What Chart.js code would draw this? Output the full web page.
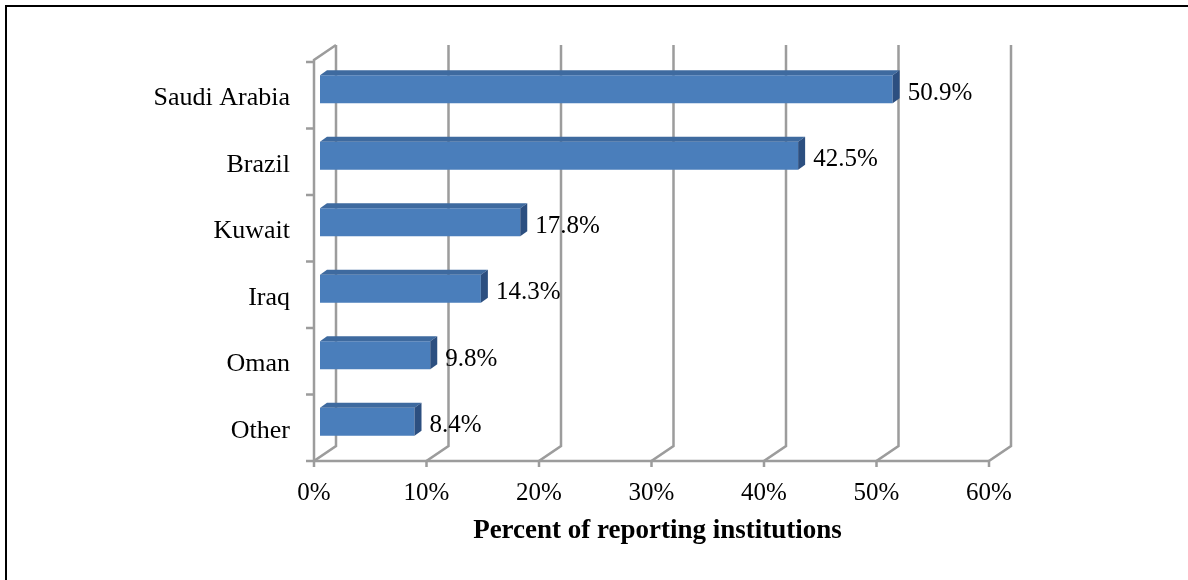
<!DOCTYPE html>
<html>
<head>
<meta charset="utf-8">
<script src="https://cdn.jsdelivr.net/npm/chart.js@4.4.1/dist/chart.umd.min.js"></script>
<style>
  html, body { margin: 0; padding: 0; background: #fff; }
  #wrap { position: relative; width: 1188px; height: 580px; overflow: hidden; }
  #frame { position: absolute; left: 5px; top: 5px; width: 1200px; height: 600px;
           border-top: 2px solid #000; border-left: 2px solid #000; pointer-events: none; }
  canvas { position: absolute; left: 0; top: 0; }
</style>
</head>
<body>
<div id="wrap">
  <canvas id="c" width="1188" height="580"></canvas>
  <div id="frame"></div>
</div>
<script>
const categories = ['Saudi Arabia', 'Brazil', 'Kuwait', 'Iraq', 'Oman', 'Other'];
const percentValues = [50.9, 42.5, 17.8, 14.3, 9.8, 8.4];
const xTickValues = [0, 10, 20, 30, 40, 50, 60];
const axisTitle = 'Percent of reporting institutions';

const FONT = '"Liberation Serif", "Times New Roman", serif';
const GRID = '#9c9c9c';
const FRONT = { dx: -6, dy: 6 };     // front plane relative to bar plane
const DEPTH = { dx: 22, dy: -15 };   // back plane relative to front plane
const BAR_D = { dx: 7, dy: -5 };     // bar depth

const wallsPlugin = {
  id: 'walls',
  beforeDatasetsDraw(chart) {
    const ctx = chart.ctx;
    const xs = chart.scales.x, ys = chart.scales.y;
    const area = chart.chartArea;
    const floorY = area.bottom + FRONT.dy;
    const topY = area.top + FRONT.dy - 2;
    const axisX = xs.getPixelForValue(0) + FRONT.dx;
    ctx.save();
    ctx.strokeStyle = GRID;
    ctx.lineWidth = 2.5;
    ctx.lineJoin = 'miter';
    // left wall axis
    ctx.beginPath();
    ctx.moveTo(axisX + DEPTH.dx, topY + DEPTH.dy);
    ctx.lineTo(axisX, topY);
    ctx.lineTo(axisX, floorY);
    ctx.stroke();
    // category boundary ticks
    const n = categories.length;
    const band = (area.bottom - area.top) / n;
    ctx.beginPath();
    for (let i = 0; i <= n; i++) {
      const y = ys.getPixelForValue(i) - band / 2 + FRONT.dy;
      ctx.moveTo(axisX - 8, y);
      ctx.lineTo(axisX, y);
    }
    ctx.stroke();
    // floor front line
    const lastX = xs.getPixelForValue(xTickValues[xTickValues.length - 1]) + FRONT.dx;
    ctx.beginPath();
    ctx.moveTo(axisX, floorY);
    ctx.lineTo(lastX, floorY);
    ctx.stroke();
    // vertical gridlines (floor diagonal + back wall)
    ctx.beginPath();
    xTickValues.forEach(v => {
      const fx = xs.getPixelForValue(v) + FRONT.dx;
      ctx.moveTo(fx, floorY + 6);
      ctx.lineTo(fx, floorY);
      ctx.lineTo(fx + DEPTH.dx, floorY + DEPTH.dy);
      ctx.lineTo(fx + DEPTH.dx, topY + DEPTH.dy);
    });
    ctx.stroke();
    ctx.restore();
  },
  afterDatasetsDraw(chart) {
    const ctx = chart.ctx;
    const meta = chart.getDatasetMeta(0);
    ctx.save();
    meta.data.forEach((bar, i) => {
      const p = bar.getProps(['x', 'y', 'base', 'height'], true);
      const top = p.y - p.height / 2, bottom = p.y + p.height / 2;
      // top face
      ctx.fillStyle = '#3e6a9f';
      ctx.beginPath();
      ctx.moveTo(p.base, top);
      ctx.lineTo(p.base + BAR_D.dx, top + BAR_D.dy);
      ctx.lineTo(p.x + BAR_D.dx, top + BAR_D.dy);
      ctx.lineTo(p.x, top);
      ctx.closePath();
      ctx.fill();
      // side face
      ctx.fillStyle = '#2c4f80';
      ctx.beginPath();
      ctx.moveTo(p.x, top);
      ctx.lineTo(p.x + BAR_D.dx, top + BAR_D.dy);
      ctx.lineTo(p.x + BAR_D.dx, bottom + BAR_D.dy);
      ctx.lineTo(p.x, bottom);
      ctx.closePath();
      ctx.fill();
      // value label
      ctx.fillStyle = '#000';
      ctx.font = '25px ' + FONT;
      ctx.textAlign = 'left';
      ctx.textBaseline = 'middle';
      ctx.fillText(percentValues[i].toFixed(1) + '%', p.x + BAR_D.dx + 8, p.y + 4);
    });
    ctx.restore();
  }
};

new Chart(document.getElementById('c'), {
  type: 'bar',
  data: {
    labels: categories,
    datasets: [{
      data: percentValues,
      backgroundColor: '#4a7ebb',
      borderWidth: 0,
      barPercentage: 0.42,
      categoryPercentage: 1.0
    }]
  },
  options: {
    indexAxis: 'y',
    responsive: false,
    animation: false,
    devicePixelRatio: 1,
    layout: { padding: { left: 0, right: 193, top: 56, bottom: 0 } },
    plugins: { legend: { display: false }, tooltip: { enabled: false } },
    scales: {
      x: {
        type: 'linear',
        min: 0, max: 60,
        afterFit(scale) { scale.height = 580 - 455; },
        afterBuildTicks(scale) { scale.ticks = xTickValues.map(v => ({ value: v })); },
        grid: { display: false, drawTicks: false },
        border: { display: false },
        ticks: {
          callback: v => v + '%',
          font: { family: FONT, size: 25 },
          color: '#000',
          padding: 23,
          labelOffset: -6,
          maxRotation: 0
        },
        title: {
          display: true,
          text: axisTitle,
          font: { family: FONT, size: 27, weight: 'bold' },
          color: '#000',
          padding: { top: 4, bottom: 33 }
        }
      },
      y: {
        afterFit(scale) { scale.width = 320; },
        grid: { display: false, drawTicks: false },
        border: { display: false },
        ticks: {
          font: { family: FONT, size: 26 },
          color: '#000',
          padding: 30,
          labelOffset: 9
        }
      }
    }
  },
  plugins: [wallsPlugin]
});
</script>
</body>
</html>
